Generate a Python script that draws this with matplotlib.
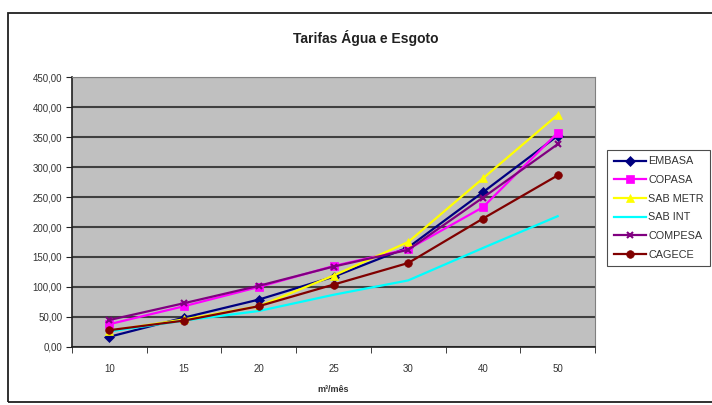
import matplotlib
matplotlib.use("Agg")
import matplotlib.pyplot as plt
from matplotlib.patches import Rectangle
from matplotlib.ticker import FuncFormatter, FixedLocator

plt.rcParams['font.family'] = ['Liberation Sans', 'DejaVu Sans']

categories = ["10", "15", "20", "25", "30", "40", "50"]
embasa  = [17, 49, 79, 117, 166, 258, 352]
copasa  = [38, 68, 100, 135, 163, 233, 357]
sab_metr = [27, 46, 68, 119, 175, 281, 387]
sab_int = [26, 44, 60, 87, 111, 165, 218]
compesa = [45, 73, 102, 134, 162, 249, 338]
cagece  = [28, 44, 68, 104, 140, 214, 286]

series = [
    ("EMBASA", embasa, "#000080", "D", 5),
    ("COPASA", copasa, "#FF00FF", "s", 5.5),
    ("SAB METR", sab_metr, "#FFFF00", "^", 6),
    ("SAB INT", sab_int, "#00FFFF", "", 0),
    ("COMPESA", compesa, "#800080", "x", 5),
    ("CAGECE", cagece, "#800000", "o", 5.5),
]

fig = plt.figure(figsize=(7.12, 4.05), dpi=100)
fig.patch.set_facecolor("white")

# outer chart border
fig.patches.append(Rectangle((8/712, 1-402/405), 1.2, (402-13)/405,
                             transform=fig.transFigure, fill=False,
                             edgecolor="#202020", linewidth=1.3))

ax = fig.add_axes([72/712, 1-347/405, (595-72)/712, (347-77)/405])
ax.set_facecolor("#C0C0C0")

x = list(range(len(categories)))
for name, vals, color, marker, ms in series:
    ax.plot(x, vals, color=color, marker=marker if marker else None,
            markersize=ms, linewidth=1.6, label=name,
            markeredgewidth=1.5 if marker == "x" else 0.5,
            markeredgecolor=color)

ax.set_xlim(-0.5, len(categories) - 0.5)
ax.set_ylim(0, 450)
ax.yaxis.set_major_locator(FixedLocator([i*50 for i in range(10)]))
ax.yaxis.set_major_formatter(FuncFormatter(lambda v, p: f"{v:.2f}".replace(".", ",")))
ax.grid(axis="y", color="#404040", linewidth=1.5)
ax.set_axisbelow(True)

ax.set_xticks(x)
ax.set_xticklabels(categories)
ax.set_xticks([i - 0.5 for i in range(len(categories) + 1)], minor=True)
ax.tick_params(axis="x", which="major", length=0, pad=12, labelsize=7, labelcolor="#333333")
ax.tick_params(axis="x", which="minor", length=4, direction="out", color="#202020")
ax.tick_params(axis="y", which="major", length=4, direction="out", labelsize=7,
               labelcolor="#333333", color="#202020", pad=3)

for s in ["top", "right"]:
    ax.spines[s].set_color("#808080")
ax.spines["left"].set_color("#202020")
ax.spines["bottom"].set_color("#202020")
ax.spines["left"].set_linewidth(1.2)
ax.spines["bottom"].set_linewidth(1.2)

ax.set_xlabel("m³/mês", fontsize=6.5, fontweight="bold", color="#333333", labelpad=8)

fig.text(0.513, 1-38/405, "Tarifas Água e Esgoto", ha="center", va="center",
         fontsize=10, fontweight="bold", color="#202020")

leg = fig.legend(loc="upper left", bbox_to_anchor=(607/712, 1-150/405),
                 fontsize=7.8, frameon=True, fancybox=False, edgecolor="#202020",
                 handlelength=3.0, labelspacing=0.8, borderpad=0.6,
                 handletextpad=0.2, borderaxespad=0)
leg.get_frame().set_linewidth(0.8)
for t in leg.get_texts():
    t.set_color("#333333")

fig.savefig("out.png", dpi=100)
